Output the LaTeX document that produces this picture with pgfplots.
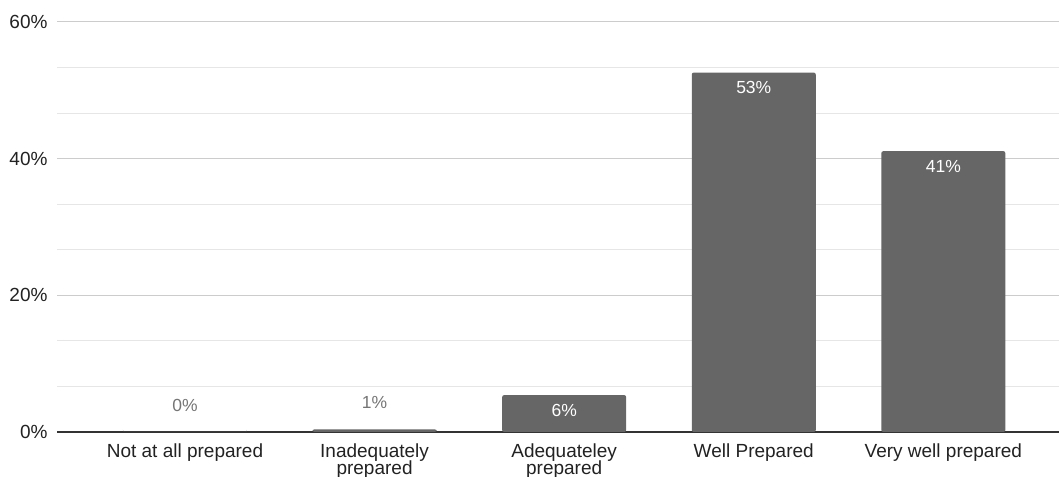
\documentclass[border=0pt]{standalone}
\usepackage{fontspec}
\setmainfont{Liberation Sans}
\usepackage{pgfplots}
\pgfplotsset{compat=1.18}
\definecolor{barc}{HTML}{666666}
\definecolor{majgrid}{HTML}{CCCCCC}
\definecolor{mingrid}{HTML}{E6E6E6}
\definecolor{textc}{HTML}{222222}
\definecolor{labout}{HTML}{757575}
\definecolor{axisc}{HTML}{333333}
\begin{document}
\fontsize{19}{14}\selectfont
\begin{tikzpicture}
\begin{axis}[name=ax, scale only axis, width=1002pt, height=410pt,
 xmin=-0.675, xmax=4.61, ymin=0, ymax=60,
 xtick={0,1,2,3,4},
 xticklabels={Not at all prepared, {Inadequately\\[-2pt]prepared}, {Adequateley\\[-2pt]prepared}, Well Prepared, Very well prepared},
 xticklabel style={align=center, text=textc, font=\fontsize{19}{14}\selectfont, yshift=-5pt},
 ytick={0,20,40,60}, yticklabel={\pgfmathprintnumber{\tick}\%},
 yticklabel style={text=textc, font=\fontsize{19}{18}\selectfont, xshift=-3pt},
 minor y tick num=2, ymajorgrids, yminorgrids,
 major grid style={draw=majgrid, line width=1pt},
 minor grid style={draw=mingrid, line width=1pt},
 extra y ticks={0}, extra y tick labels={},
 extra y tick style={major grid style={draw=axisc, line width=1.3pt}},
 axis line style={draw=none}, major tick length=0pt, minor tick length=0pt,
 /pgf/number format/assume math mode=true,
 ybar, bar width=124pt, bar shift=0pt,
 point meta=explicit symbolic,
 nodes near coords,
 clip=false,
]
\addplot[fill=barc, draw=none, rounded corners=2pt,
  every node near coord/.append style={anchor=center, yshift=27pt, text=labout, font=\fontsize{17.5}{17}\selectfont}]
  coordinates {(0,0) [0\%] (1,0.4) [1\%]};
\addplot[fill=barc, draw=none, rounded corners=2pt,
  every node near coord/.append style={anchor=center, yshift=-15pt, text=white, font=\fontsize{17.5}{17}\selectfont}]
  coordinates {(2,5.4) [6\%] (3,52.6) [53\%] (4,41.1) [41\%]};
\end{axis}
\pgfresetboundingbox
\path ([xshift=-57pt,yshift=-45pt]ax.south west) rectangle ([yshift=22pt]ax.north east);
\end{tikzpicture}
\end{document}
